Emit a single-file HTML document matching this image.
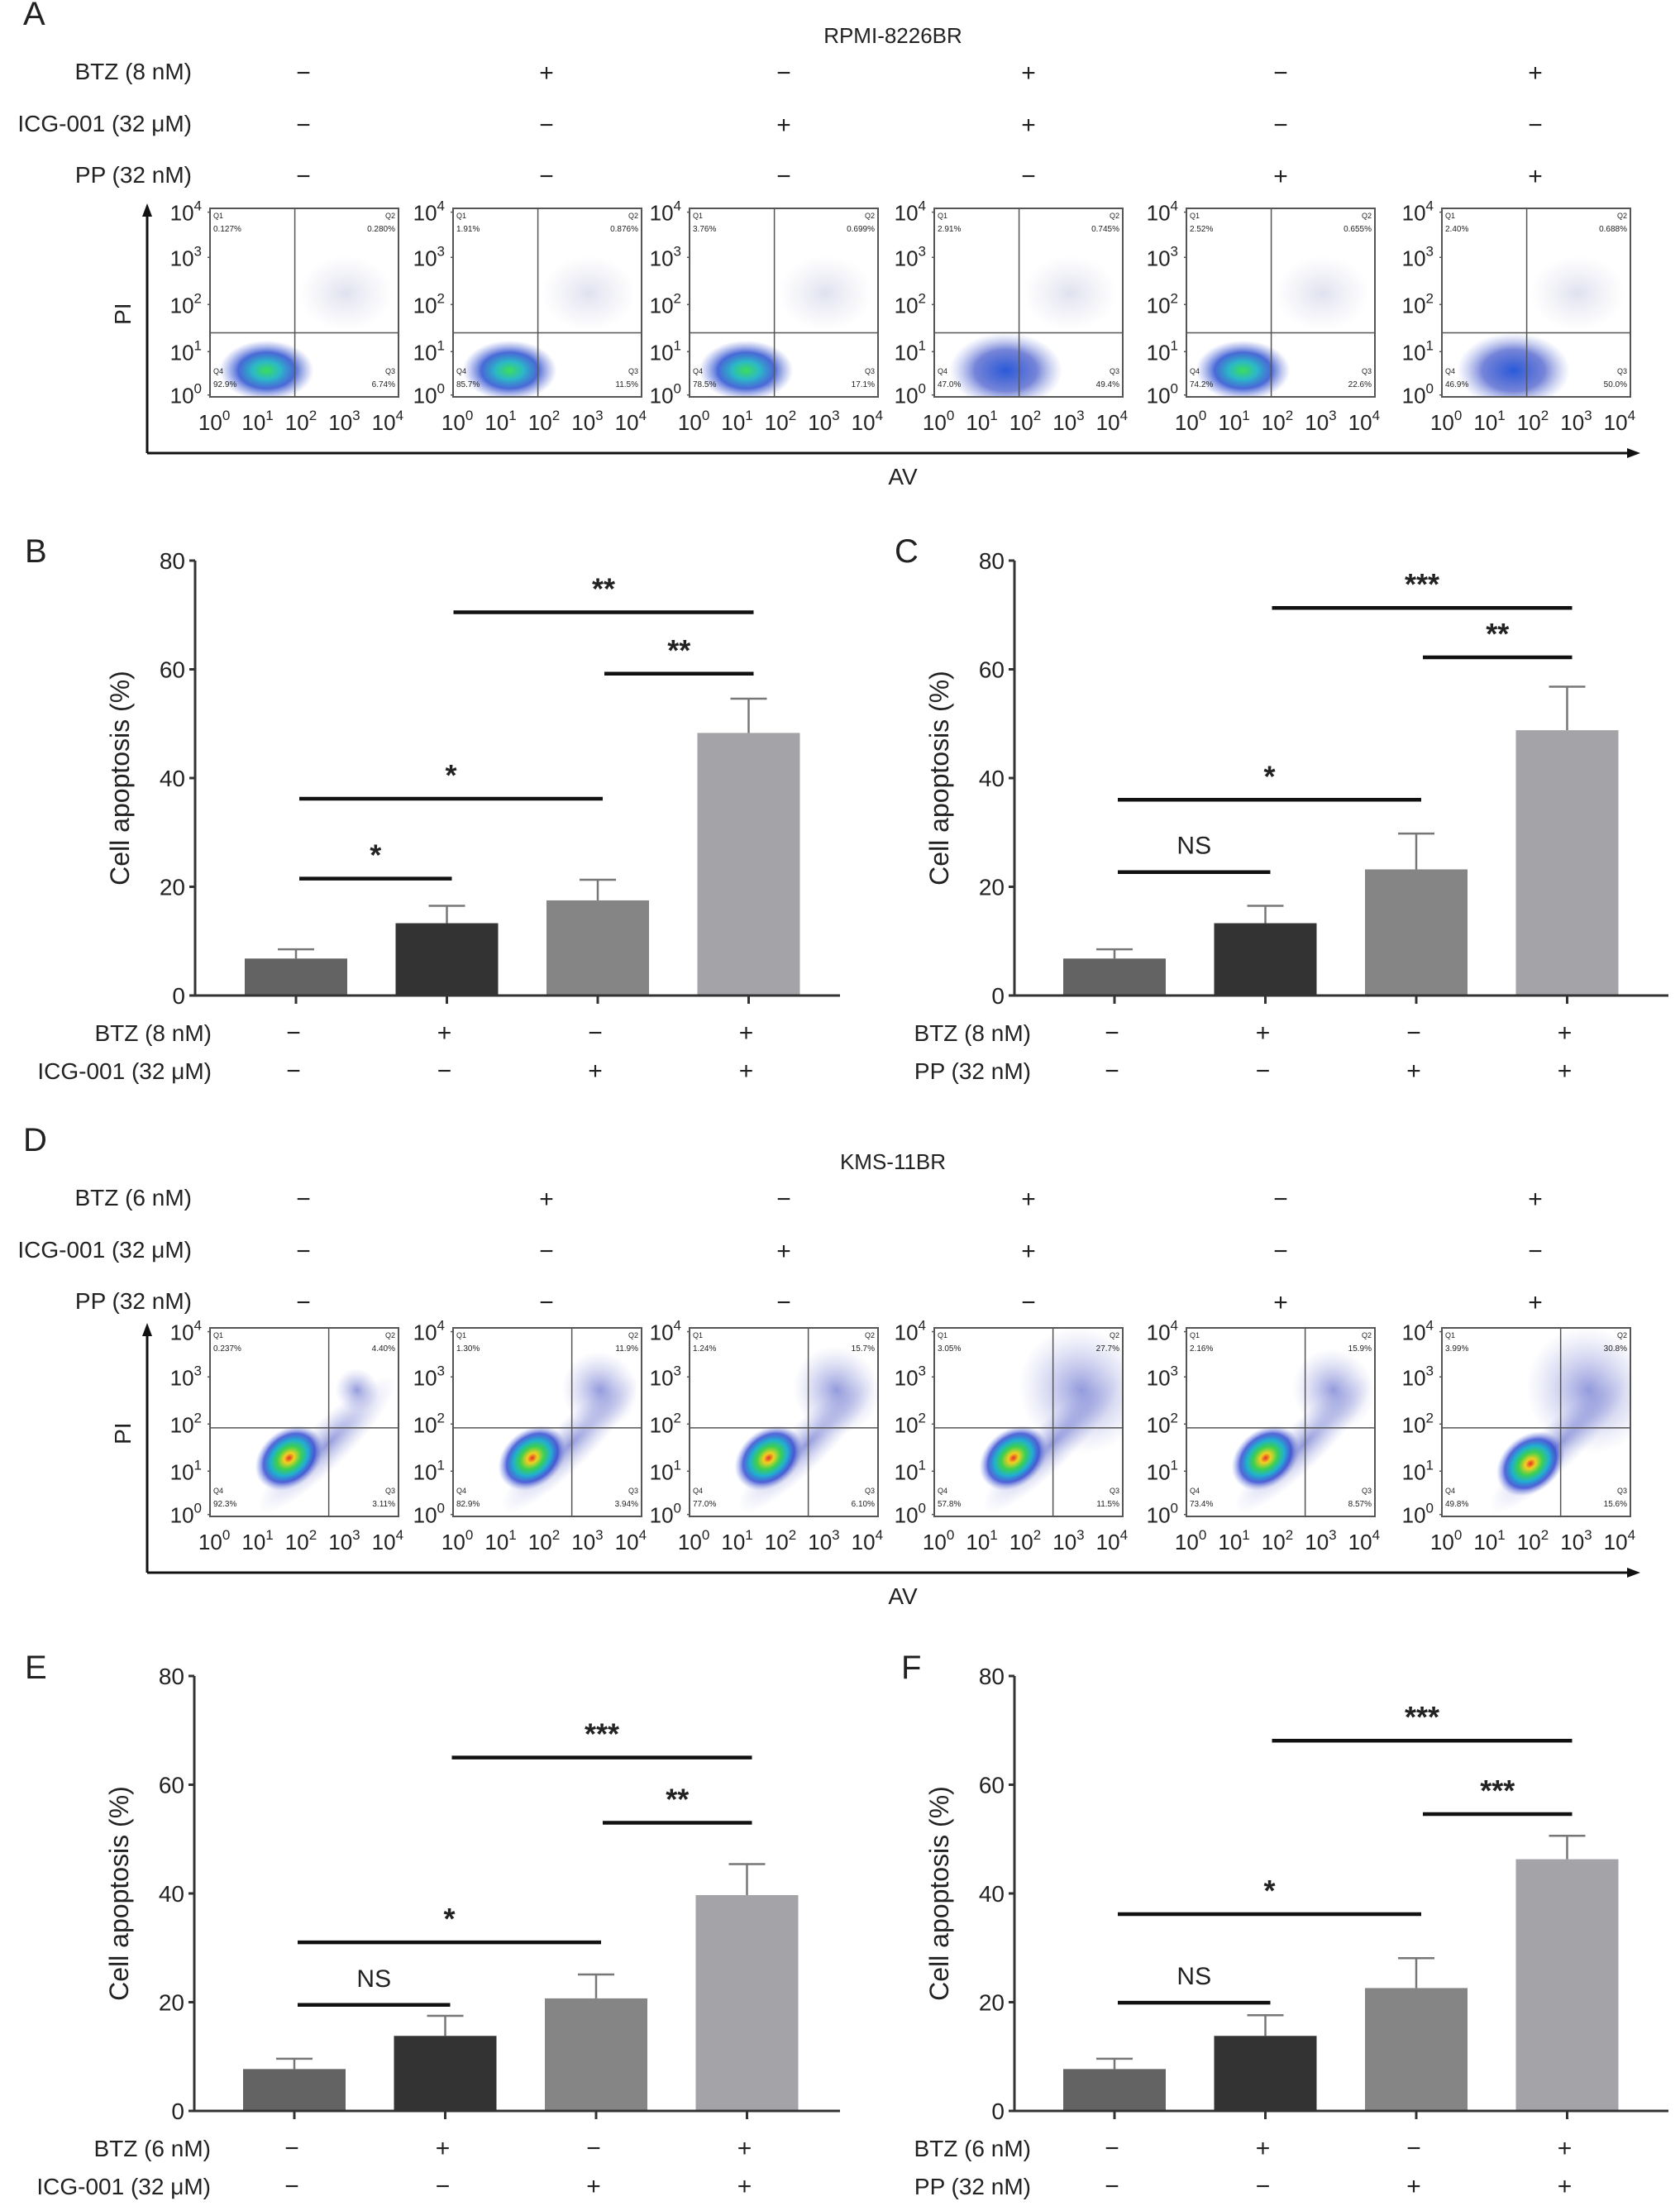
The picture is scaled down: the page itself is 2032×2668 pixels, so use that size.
<!DOCTYPE html>
<html><head><meta charset="utf-8"><style>
html,body{margin:0;padding:0;background:#fff}
svg{display:block}
text{font-family:"Liberation Sans",sans-serif;fill:#222}
</style></head><body>
<svg id="fig" xmlns="http://www.w3.org/2000/svg" width="2032" height="2668" viewBox="0 0 2032 2668">
<defs>
<radialGradient id="blobA" cx="50%" cy="50%" r="50%">
<stop offset="0" stop-color="#3ddc5a"/><stop offset="0.3" stop-color="#2bb8c8"/><stop offset="0.6" stop-color="#2a4fd0" stop-opacity="0.85"/><stop offset="1" stop-color="#6a7ad8" stop-opacity="0"/>
</radialGradient>
<radialGradient id="blobAd" cx="50%" cy="50%" r="50%">
<stop offset="0" stop-color="#2a5ad8"/><stop offset="0.55" stop-color="#3a50c8" stop-opacity="0.7"/><stop offset="1" stop-color="#8090dd" stop-opacity="0"/>
</radialGradient>
<radialGradient id="blobD" cx="50%" cy="50%" r="50%">
<stop offset="0" stop-color="#e8302a"/><stop offset="0.15" stop-color="#f0d020"/><stop offset="0.35" stop-color="#3cd050"/><stop offset="0.55" stop-color="#20b0d0"/><stop offset="0.75" stop-color="#2a40d0" stop-opacity="0.8"/><stop offset="1" stop-color="#8090dd" stop-opacity="0"/>
</radialGradient>
<radialGradient id="cloud" cx="50%" cy="50%" r="50%">
<stop offset="0" stop-color="#3a48c0" stop-opacity="0.55"/><stop offset="1" stop-color="#8a90d8" stop-opacity="0"/>
</radialGradient>
<radialGradient id="faint" cx="50%" cy="50%" r="50%">
<stop offset="0" stop-color="#8088c0" stop-opacity="0.25"/><stop offset="1" stop-color="#a0a0c8" stop-opacity="0"/>
</radialGradient>
</defs>
<g id="root"></g>
</svg>
<script>
// ---------- Bar chart data ----------
const tickValues = [0, 20, 40, 60, 80];
const barCategories = ["ctrl", "btz", "combo-a", "combo-b"];
const barColors = ["#636363", "#333333", "#858585", "#a3a3a8"];
const valuesB = [6.8, 13.3, 17.5, 48.3];
const errorsB = [8.5, 16.5, 21.3, 54.6];
const valuesC = [6.8, 13.3, 23.2, 48.8];
const errorsC = [8.5, 16.5, 29.8, 56.8];
const valuesE = [7.7, 13.8, 20.7, 39.7];
const errorsE = [9.6, 17.5, 25.1, 45.4];
const valuesF = [7.7, 13.8, 22.6, 46.3];
const errorsF = [9.6, 17.6, 28.1, 50.6];
// significance brackets: [fromIndex, toIndex, yValue, label]
const sigB = [[0,1,21.5,"*"],[0,2,36.2,"*"],[2,3,59.2,"**"],[1,3,70.5,"**"]];
const sigC = [[0,1,22.7,"NS"],[0,2,36.0,"*"],[2,3,62.2,"**"],[1,3,71.3,"***"]];
const sigE = [[0,1,19.5,"NS"],[0,2,31.0,"*"],[2,3,53.0,"**"],[1,3,65.0,"***"]];
const sigF = [[0,1,19.9,"NS"],[0,2,36.2,"*"],[2,3,54.6,"***"],[1,3,68.1,"***"]];
const rowBTZ = ["−","+","−","+"];
const rowDrug2 = ["−","−","+","+"];
// ---------- Flow data ----------
const flowSigns = [["−","+","−","+","−","+"],["−","−","+","+","−","−"],["−","−","−","−","+","+"]];
const quadA = [["0.127%","0.280%","92.9%","6.74%"],["1.91%","0.876%","85.7%","11.5%"],["3.76%","0.699%","78.5%","17.1%"],["2.91%","0.745%","47.0%","49.4%"],["2.52%","0.655%","74.2%","22.6%"],["2.40%","0.688%","46.9%","50.0%"]];
const quadD = [["0.237%","4.40%","92.3%","3.11%"],["1.30%","11.9%","82.9%","3.94%"],["1.24%","15.7%","77.0%","6.10%"],["3.05%","27.7%","57.8%","11.5%"],["2.16%","15.9%","73.4%","8.57%"],["3.99%","30.8%","49.8%","15.6%"]];

const NS = "http://www.w3.org/2000/svg";
const root = document.getElementById("root");
function mk(tag, attrs, parent, txt){
  const e = document.createElementNS(NS, tag);
  for (const k in attrs) e.setAttribute(k, attrs[k]);
  if (txt !== undefined) e.textContent = txt;
  (parent || root).appendChild(e);
  return e;
}

// ---------- Bar chart ----------
function barChart(name, ax, y0, y80, firstCenter, values, errors, sigs, label1, label2, letter, letterX, letterY, xEnd){
  const g = mk("g", {});
  
  
  const yScale = v => y0 - (v/80)*(y0 - y80);
  const xScale = i => firstCenter + i*182.5;
  const bw = 124;
  const L = mk("text", {x: letterX, y: letterY, "font-size": 40}, g, letter);
  
  
  // y axis
  const ya = mk("line", {x1: ax, y1: y80, x2: ax, y2: y0, stroke: "#333", "stroke-width": 3}, g);
  
  
  tickValues.forEach(v => {
    const y = yScale(v);
    mk("line", {x1: ax-7, y1: y, x2: ax, y2: y, stroke: "#333", "stroke-width": 3}, g);
    const t = mk("text", {x: ax-12, y: y+10, "font-size": 28, "text-anchor": "end"}, g, String(v));
    
    
  });
  const yt = mk("text", {x: 0, y: 0, "font-size": 32, "text-anchor": "middle", transform: `translate(${ax-80},${(y0+y80)/2}) rotate(-90)`}, g, "Cell apoptosis (%)");
  
  
  // bars
  values.forEach((v, i) => {
    const cx = xScale(i);
    const ey = yScale(errors[i]);
    const eb = mk("line", {x1: cx, y1: ey, x2: cx, y2: yScale(v), stroke: "#777", "stroke-width": 2.5}, g);
    
    
    mk("line", {x1: cx-22, y1: ey, x2: cx+22, y2: ey, stroke: "#777", "stroke-width": 2.5}, g);
    const r = mk("rect", {x: cx-bw/2, y: yScale(v), width: bw, height: y0 - yScale(v), fill: barColors[i]}, g);
    
    
    mk("line", {x1: cx, y1: y0, x2: cx, y2: y0+10, stroke: "#333", "stroke-width": 3}, g);
    const s1 = mk("text", {x: cx-3, y: y0+55, "font-size": 30, "text-anchor": "middle"}, g, rowBTZ[i]);
    
    
    const s2 = mk("text", {x: cx-3, y: y0+101, "font-size": 30, "text-anchor": "middle"}, g, rowDrug2[i]);
    
    
  });
  const xa = mk("line", {x1: ax, y1: y0, x2: xEnd, y2: y0, stroke: "#333", "stroke-width": 3}, g);
  
  
  const l1 = mk("text", {x: ax+20, y: y0+55, "font-size": 28, "text-anchor": "end"}, g, label1);
  
  
  const l2 = mk("text", {x: ax+20, y: y0+101, "font-size": 28, "text-anchor": "end"}, g, label2);
  
  
  // significance
  sigs.forEach(s => {
    const x1 = xScale(s[0]) + (s[0] === 0 ? 4 : 8), x2 = xScale(s[1]) + 6, y = yScale(s[2]);
    const ln = mk("line", {x1: x1, y1: y, x2: x2, y2: y, stroke: "#111", "stroke-width": 4.5}, g);
    
    
    const isStar = s[3] !== "NS";
    const t = mk("text", {x: (x1+x2)/2, y: isStar ? y-16 : y-22, "font-size": isStar ? 36 : 30, "text-anchor": "middle", "font-weight": isStar ? "bold" : "normal"}, g, s[3]);
    
    
  });
}
barChart("chart-b", 236, 1204, 678, 358, valuesB, errorsB, sigB, "BTZ (8 nM)", "ICG-001 (32 μM)", "B", 30, 680, 1016);
barChart("chart-c", 1227, 1204, 678, 1348, valuesC, errorsC, sigC, "BTZ (8 nM)", "PP (32 nM)", "C", 1082, 680, 2018);
barChart("chart-e", 235, 2553, 2027, 356, valuesE, errorsE, sigE, "BTZ (6 nM)", "ICG-001 (32 μM)", "E", 30, 2030, 1016);
barChart("chart-f", 1227, 2553, 2027, 1348, valuesF, errorsF, sigF, "BTZ (6 nM)", "PP (32 nM)", "F", 1090, 2030, 2018);

// ---------- Flow panels ----------
const plotX = [254, 548, 834, 1130, 1435, 1744];
const signX = [367, 661, 948, 1244, 1549, 1857];
function flowPanel(name, letter, title, top, boxTop, btzLbl, quads, gx, gy, isD){
  const g = mk("g", {});
  
  
  const L = mk("text", {x: 28, y: top+30, "font-size": 40}, g, letter);
  
  
  const T = mk("text", {x: 1080, y: top+52, "font-size": 26, "text-anchor": "middle"}, g, title);
  
  
  const rowLabels = [btzLbl, "ICG-001 (32 μM)", "PP (32 nM)"];
  const rowY = [top+96, top+159, top+221];
  rowLabels.forEach((lab, r) => {
    const t = mk("text", {x: 232, y: rowY[r], "font-size": 28, "text-anchor": "end"}, g, lab);
    
    
    flowSigns[r].forEach((s, c) => {
      const st = mk("text", {x: signX[c], y: rowY[r]+2, "font-size": 30, "text-anchor": "middle"}, g, s);
      
      
    });
  });
  const W = 228, H = 228;
  plotX.forEach((px, i) => {
    const pg = mk("g", {}, g);
    
    
    const clipId = name + "clip" + i;
    const cp = mk("clipPath", {id: clipId}, pg);
    mk("rect", {x: px, y: boxTop, width: W, height: H}, cp);
    const cg = mk("g", {"clip-path": `url(#${clipId})`}, pg);
    if (isD){
      const spread = [0.25, 0.55, 0.65, 1.0, 0.6, 1.0][i];
      mk("ellipse", {cx: px+W*0.78, cy: boxTop+H*0.33, rx: W*0.28*spread+10, ry: H*0.3*spread+10, fill: "url(#cloud)", transform: `rotate(-40 ${px+W*0.78} ${boxTop+H*0.33})`}, cg);
      mk("ellipse", {cx: px+W*0.62, cy: boxTop+H*0.62, rx: W*0.5, ry: H*0.12, fill: "url(#cloud)", transform: `rotate(-45 ${px+W*0.62} ${boxTop+H*0.62})`}, cg);
      const bx = px+W*(i===5?0.47:0.42), by = boxTop+H*(i===5?0.72:0.69);
      mk("ellipse", {cx: bx, cy: by, rx: W*0.2, ry: H*0.15, fill: "url(#blobD)", transform: `rotate(-40 ${bx} ${by})`}, cg);
    } else {
      mk("ellipse", {cx: px+W*0.72, cy: boxTop+H*0.45, rx: W*0.25, ry: H*0.2, fill: "url(#faint)"}, cg);
      const diffuse = (i===3 || i===5);
      const bx = px+W*(diffuse?0.38:0.3), by = boxTop+H*0.86;
      mk("ellipse", {cx: bx, cy: by, rx: W*(diffuse?0.3:0.25), ry: H*(diffuse?0.2:0.16), fill: diffuse ? "url(#blobAd)" : "url(#blobA)"}, cg);
    }
    const box = mk("rect", {x: px, y: boxTop, width: W, height: H, fill: "none", stroke: "#555", "stroke-width": 2}, pg);
    
    
    mk("line", {x1: px+W*gx, y1: boxTop, x2: px+W*gx, y2: boxTop+H, stroke: "#555", "stroke-width": 1.5}, pg);
    mk("line", {x1: px, y1: boxTop+H*gy, x2: px+W, y2: boxTop+H*gy, stroke: "#555", "stroke-width": 1.5}, pg);
    const q = quads[i];
    [["Q1", q[0], px+4, boxTop+12, "start"], ["Q2", q[1], px+W-4, boxTop+12, "end"], ["Q4", q[2], px+4, boxTop+H-28, "start"], ["Q3", q[3], px+W-4, boxTop+H-28, "end"]].forEach(a => {
      mk("text", {x: a[2], y: a[3], "font-size": 9, "text-anchor": a[4], fill: "#444"}, pg, a[0]);
      const qt = mk("text", {x: a[2], y: a[3]+16, "font-size": 10, "text-anchor": a[4], fill: "#444"}, pg, a[1]);
      
      
    });
    const yf = [0.02, 0.26, 0.51, 0.76, 0.99];
    [4,3,2,1,0].forEach((p, k) => {
      const ty = boxTop + H*yf[k];
      const t = mk("text", {x: px-10, y: ty+10, "font-size": 26, "text-anchor": "end"}, pg);
      
      
      mk("tspan", {}, t, "10");
      mk("tspan", {dy: -12, "font-size": 17}, t, String(p));
      mk("line", {x1: px-3, y1: ty, x2: px, y2: ty, stroke: "#555", "stroke-width": 1.5}, pg);
    });
    const xf = [0.04, 0.27, 0.5, 0.73, 0.96];
    [0,1,2,3,4].forEach(p => {
      const t = mk("text", {x: px + W*xf[p] - 4, y: boxTop+H+40, "font-size": 26, "text-anchor": "middle"}, pg);
      
      
      mk("tspan", {}, t, "10");
      mk("tspan", {dy: -12, "font-size": 17}, t, String(p));
    });
  });
  const axY = boxTop + H + 68;
  const va = mk("line", {x1: 178, y1: boxTop+4, x2: 178, y2: axY, stroke: "#111", "stroke-width": 3}, g);
  
  
  mk("polygon", {points: `172,${boxTop+10} 184,${boxTop+10} 178,${boxTop-6}`, fill: "#111"}, g);
  const ha = mk("line", {x1: 178, y1: axY, x2: 1975, y2: axY, stroke: "#111", "stroke-width": 3}, g);
  
  
  mk("polygon", {points: `1968,${axY-6} 1968,${axY+6} 1984,${axY}`, fill: "#111"}, g);
  const pi = mk("text", {x: 0, y: 0, "font-size": 28, "text-anchor": "middle", transform: `translate(158,${boxTop+H*0.56}) rotate(-90)`}, g, "PI");
  
  
  const av = mk("text", {x: 1092, y: axY+38, "font-size": 28, "text-anchor": "middle"}, g, "AV");
  
  
}
flowPanel("flow-panel-a", "A", "RPMI-8226BR", 0, 252, "BTZ (8 nM)", quadA, 0.45, 0.66, false);
flowPanel("flow-panel-d", "D", "KMS-11BR", 1362, 1606, "BTZ (6 nM)", quadD, 0.63, 0.53, true);
</script>
</body></html>
